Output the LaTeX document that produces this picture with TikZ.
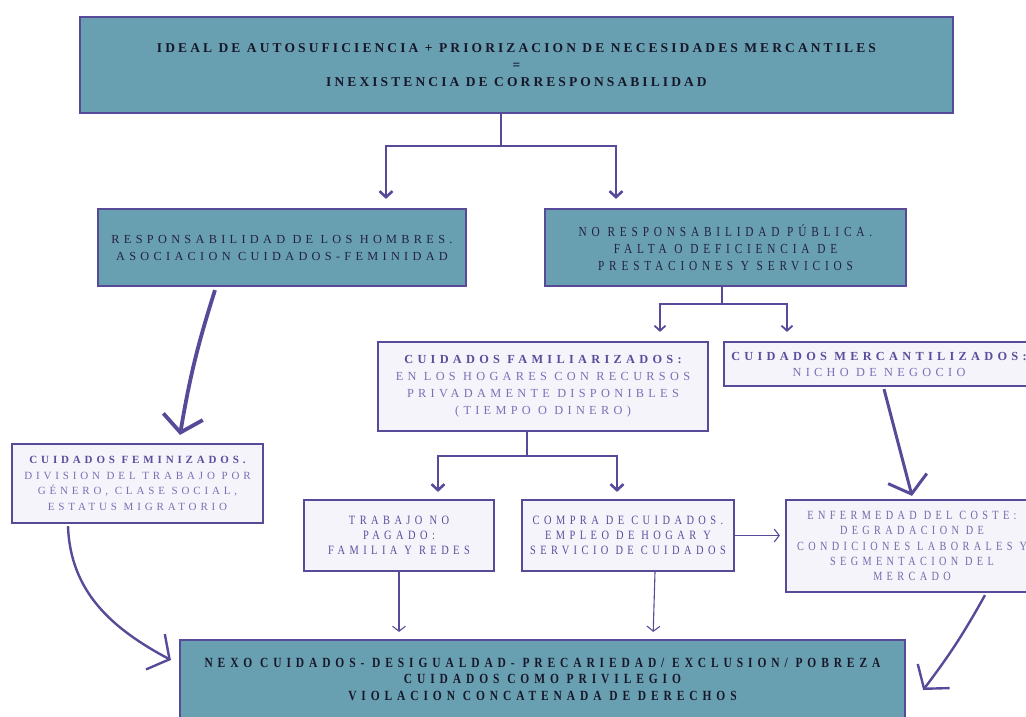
\documentclass[tikz,border=0pt]{standalone}
\usepackage{fontspec}
\setmainfont{Liberation Serif}
\newfontfamily\narrowfont[FakeStretch=0.82,LetterSpace=35]{Liberation Serif}
\newfontfamily\widefont[LetterSpace=35]{Liberation Serif}
\usetikzlibrary{arrows.meta}
\definecolor{boxteal}{HTML}{68A0B1}
\definecolor{boxedge}{HTML}{574B99}
\definecolor{boxpale}{HTML}{F4F4FA}
\definecolor{inkdark}{HTML}{17172A}
\definecolor{inkpurple}{HTML}{5A4E9C}
\definecolor{inklight}{HTML}{7A70B6}
\begin{document}
\begin{tikzpicture}[x=1pt,y=-1pt,
 tealbox/.style={draw=boxedge,line width=2.2pt,fill=boxteal,inner sep=0pt,align=center,text=inkdark},
 palebox/.style={draw=boxedge,line width=2.2pt,fill=boxpale,inner sep=0pt,align=center,text=inklight},
 fork/.style={draw=boxedge,line width=2.6pt,-{Straight Barb[length=6pt,width=13pt]},shorten >=9pt},
 slimfork/.style={draw=boxedge,line width=1.8pt,-{Straight Barb[length=5pt,width=11pt]},shorten >=9pt},
 bigarrow/.style={draw=boxedge,line width=3pt,-{Straight Barb[length=16pt,width=40pt]}},
 thinarrow/.style={draw=boxedge,line width=1.1pt,-{Straight Barb[length=5pt,width=13pt]},shorten >=7pt}]
\useasboundingbox (0,0) rectangle (1026,717);
\node (top) at (516.5,65) [tealbox,minimum width=873pt,minimum height=96pt,font=\widefont\bfseries\addfontfeature{LetterSpace=23}\fontsize{13.5}{17}\selectfont] {IDEAL DE AUTOSUFICIENCIA + PRIORIZACION DE NECESIDADES MERCANTILES\\=\\INEXISTENCIA DE CORRESPONSABILIDAD};
\node (men) at (282,247.5) [tealbox,minimum width=368pt,minimum height=77pt,text=inkdark!80!boxedge,font=\widefont\fontsize{12.3}{17}\selectfont] {RESPONSABILIDAD DE LOS HOMBRES.\\ASOCIACION CUIDADOS-FEMINIDAD};
\node (public) at (725.5,247.5) [tealbox,minimum width=361pt,minimum height=77pt,text=inkdark!80!boxedge,font=\narrowfont\fontsize{13.8}{17}\selectfont] {NO RESPONSABILIDAD PÚBLICA.\\FALTA O DEFICIENCIA DE\\PRESTACIONES Y SERVICIOS};
\node (familiar) at (543,386.5) [palebox,minimum width=330pt,minimum height=89pt,font=\widefont\fontsize{12.3}{17}\selectfont] {\textcolor{inkpurple}{\bfseries CUIDADOS FAMILIARIZADOS:}\\EN LOS HOGARES CON RECURSOS\\PRIVADAMENTE DISPONIBLES\\(TIEMPO O DINERO)};
\node (market) at (879,364) [palebox,minimum width=310pt,minimum height=44pt,font=\widefont\fontsize{12.3}{16}\selectfont] {\textcolor{inkpurple}{\bfseries CUIDADOS MERCANTILIZADOS:}\\NICHO DE NEGOCIO};
\node (femin) at (137.5,483.5) [palebox,minimum width=251pt,minimum height=79pt,font=\widefont\fontsize{11}{15.5}\selectfont] {\textcolor{inkpurple}{\bfseries CUIDADOS FEMINIZADOS.}\\DIVISION DEL TRABAJO POR\\GÉNERO, CLASE SOCIAL,\\ESTATUS MIGRATORIO};
\node (unpaid) at (399,535.5) [palebox,minimum width=190pt,minimum height=71pt,text=inkpurple,font=\narrowfont\fontsize{12.7}{15}\selectfont] {TRABAJO NO\\PAGADO:\\FAMILIA Y REDES};
\node (purchase) at (628,535.5) [palebox,minimum width=212pt,minimum height=71pt,text=inkpurple,font=\narrowfont\fontsize{12.7}{15}\selectfont] {COMPRA DE CUIDADOS.\\EMPLEO DE HOGAR Y\\SERVICIO DE CUIDADOS};
\node (cost) at (912,546) [palebox,minimum width=252pt,minimum height=92pt,text=inkpurple!85!white,font=\narrowfont\fontsize{12.5}{15.2}\selectfont] {ENFERMEDAD DEL COSTE:\\DEGRADACION DE\\CONDICIONES LABORALES Y\\SEGMENTACION DEL\\MERCADO};
\node (nexus) at (542.5,679) [tealbox,minimum width=725pt,minimum height=78pt,font=\narrowfont\bfseries\fontsize{14}{16.5}\selectfont] {NEXO CUIDADOS- DESIGUALDAD- PRECARIEDAD/ EXCLUSION/ POBREZA\\CUIDADOS COMO PRIVILEGIO\\VIOLACION CONCATENADA DE DERECHOS};
\draw[fork] ([xshift=-15.5pt]top.south) -- ++(0,32) -| ([xshift=104pt]men.north);
\draw[fork] ([xshift=-15.5pt]top.south) -- ++(0,32) -| ([xshift=-109.5pt]public.north);
\draw[slimfork] ([xshift=-3.5pt]public.south) -- ++(0,17) -| ([xshift=117pt]familiar.north);
\draw[slimfork] ([xshift=-3.5pt]public.south) -- ++(0,17) -| ([xshift=-92pt]market.north);
\draw[fork,shorten >=7pt] ([xshift=-16pt]familiar.south) -- ++(0,24) -| ([xshift=39pt]unpaid.north);
\draw[fork,shorten >=7pt] ([xshift=-16pt]familiar.south) -- ++(0,24) -| ([xshift=-11pt]purchase.north);
\draw[bigarrow,line width=3.8pt] ([xshift=-67pt,yshift=-3pt]men.south) to[bend right=4] ([xshift=42.5pt,yshift=8pt]femin.north);
\draw[bigarrow] ([xshift=5pt,yshift=-2pt]market.south) -- ([xshift=0pt,yshift=3pt]cost.north);
\draw[bigarrow,line width=2.4pt] ([xshift=-69.5pt,yshift=-2pt]femin.south) to[out=-88,in=152] ([xshift=-8pt,yshift=19pt]nexus.west);
\draw[bigarrow,line width=2.4pt] ([xshift=73pt,yshift=-2pt]cost.south) to[bend left=4] ([xshift=17pt,yshift=-11pt]nexus.east);
\draw[thinarrow] (unpaid.south) -- (unpaid.south |- nexus.north);
\draw[thinarrow] ([xshift=27pt]purchase.south) -- ([xshift=25pt]purchase.south |- nexus.north);
\draw[thinarrow,shorten >=5pt] (purchase.east) -- (purchase.east -| cost.west);
\end{tikzpicture}
\end{document}
